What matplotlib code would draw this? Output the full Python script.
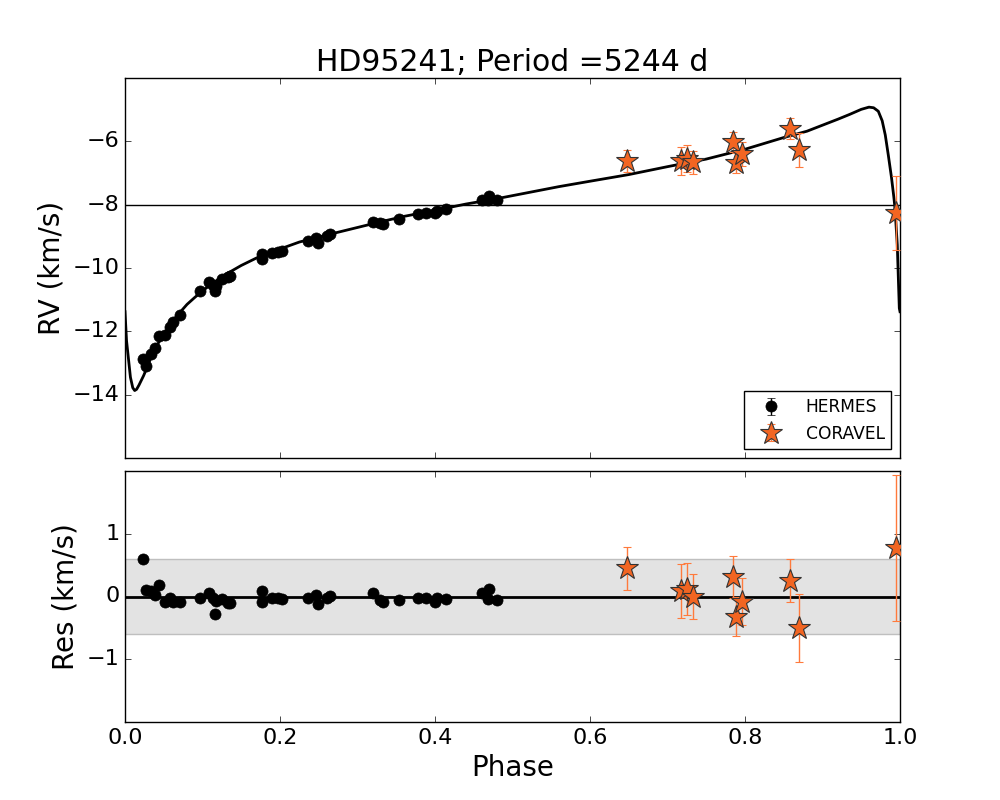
import matplotlib
matplotlib.use("Agg")
import matplotlib.pyplot as plt
import numpy as np

# ---------------------------- data ---------------------------- #

title = "HD95241; Period =5244 d"

# HERMES radial velocities (phase, RV) and residuals
hermes_phase = [0.0228, 0.027, 0.034, 0.0387, 0.044, 0.0516, 0.058, 0.062, 0.071,
                0.0968, 0.1088, 0.113, 0.116, 0.117, 0.1248, 0.133, 0.135,
                0.177, 0.177, 0.19, 0.198, 0.202, 0.2365, 0.247, 0.249, 0.26, 0.264,
                0.3204, 0.329, 0.333, 0.354, 0.378, 0.389, 0.400, 0.402, 0.414,
                0.4603, 0.47, 0.469, 0.4796]
hermes_rv = [-12.88, -13.08, -12.72, -12.52, -12.15, -12.12, -11.85, -11.72, -11.48,
             -10.72, -10.45, -10.55, -10.72, -10.58, -10.35, -10.28, -10.24,
             -9.55, -9.73, -9.52, -9.49, -9.45, -9.14, -9.06, -9.2, -8.98, -8.93,
             -8.55, -8.58, -8.62, -8.45, -8.29, -8.26, -8.26, -8.19, -8.14,
             -7.84, -7.74, -7.86, -7.86]
hermes_res = [0.59, 0.10, 0.08, 0.02, 0.18, -0.095, -0.03, -0.08, -0.085,
              -0.016, 0.06, -0.02, -0.28, -0.07, -0.04, -0.11, -0.10,
              0.09, -0.095, -0.03, -0.03, -0.04, -0.016, 0.02, -0.12, -0.03, 0.005,
              0.05, -0.06, -0.08, -0.05, -0.016, -0.016, -0.085, -0.016, -0.04,
              0.05, 0.12, -0.04, -0.05]
hermes_err = [0.02] * len(hermes_phase)

# CORAVEL radial velocities
coravel_phase = [0.648, 0.718, 0.7256, 0.733, 0.785, 0.7884, 0.7957, 0.858, 0.8697, 0.9948]
coravel_rv = [-6.62, -6.62, -6.55, -6.66, -6.02, -6.68, -6.39, -5.60, -6.28, -8.27]
coravel_err = [0.34, 0.43, 0.42, 0.36, 0.33, 0.31, 0.38, 0.34, 0.54, 1.16]
coravel_res = [0.45, 0.085, 0.12, 0.0, 0.31, -0.32, -0.08, 0.25, -0.50, 0.77]

# orbit model curve (phase, RV)
model_phase = [0.0, 0.002, 0.0047, 0.007, 0.01, 0.0125, 0.015, 0.018, 0.021, 0.024,
               0.028, 0.034, 0.04, 0.047, 0.055, 0.062, 0.071, 0.08, 0.09, 0.1,
               0.115, 0.13, 0.15, 0.175, 0.2, 0.225, 0.25, 0.275, 0.3, 0.33,
               0.36, 0.4, 0.44, 0.48, 0.52, 0.56, 0.6, 0.65, 0.7, 0.75,
               0.8, 0.85, 0.88, 0.9, 0.92, 0.935, 0.95, 0.96, 0.966, 0.972,
               0.977, 0.981, 0.985, 0.989, 0.992, 0.9935, 0.9965, 0.9991, 1.0]
model_rv = [-11.38, -12.3, -12.92, -13.45, -13.78, -13.87, -13.83, -13.7, -13.55, -13.4,
            -13.17, -12.8, -12.5, -12.2, -11.93, -11.66, -11.4, -11.15, -10.93, -10.72,
            -10.45, -10.2, -9.92, -9.62, -9.4, -9.18, -9.02, -8.87, -8.72, -8.54,
            -8.37, -8.18, -7.98, -7.81, -7.62, -7.43, -7.26, -7.05, -6.8, -6.56,
            -6.25, -5.88, -5.68, -5.49, -5.3, -5.15, -4.99, -4.92, -4.94, -5.05,
            -5.35, -5.8, -6.45, -7.14, -7.75, -8.1, -9.27, -11.27, -11.38]

gamma = -8.0
res_band = 0.6

# ---------------------------- plotting ---------------------------- #

plt.style.use("classic")
plt.rcParams["figure.facecolor"] = "white"
plt.rcParams["savefig.facecolor"] = "white"
plt.rcParams["font.family"] = "DejaVu Sans"
plt.rcParams["axes.unicode_minus"] = True

star_face = "#f26522"
err_col = "#ff7a3c"

fig = plt.figure(figsize=(10, 8), dpi=100)
ax1 = fig.add_axes([0.125, 0.4275, 0.775, 0.475])
ax2 = fig.add_axes([0.125, 0.0975, 0.775, 0.31375])

# top panel
ax1.plot(model_phase, model_rv, color="black", lw=2, zorder=2)
ax1.axhline(gamma, color="black", lw=1, zorder=1)
ax1.errorbar(hermes_phase, hermes_rv, yerr=hermes_err, fmt="o", color="black",
             mec="black", ms=8, capsize=3, label="HERMES", zorder=3)
ax1.errorbar(coravel_phase, coravel_rv, yerr=coravel_err, fmt="*", color=star_face,
             ecolor=err_col, mec="#333333", mew=0.8, ms=17, capsize=3,
             label="CORAVEL", zorder=4)
ax1.set_xlim(0, 1)
ax1.set_ylim(-16, -4)
ax1.set_yticks([-14, -12, -10, -8, -6])
ax1.set_xticks([0.0, 0.2, 0.4, 0.6, 0.8, 1.0])
ax1.set_xticklabels([])
ax1.set_ylabel("RV (km/s)", fontsize=20)
ax1.set_title(title, fontsize=21.5)
ax1.tick_params(labelsize=16)
leg = ax1.legend(loc="lower right", numpoints=1, fontsize=12.3, frameon=True,
                 handlelength=2.4, handletextpad=0.8, borderpad=0.4)
leg.get_frame().set_edgecolor("black")

# residual panel
ax2.axhspan(-res_band, res_band, facecolor="0.89", edgecolor="0.75", zorder=0)
ax2.axhline(0, color="black", lw=2, zorder=1)
ax2.errorbar(hermes_phase, hermes_res, yerr=hermes_err, fmt="o", color="black",
             mec="black", ms=8, capsize=3, zorder=3)
ax2.errorbar(coravel_phase, coravel_res, yerr=coravel_err, fmt="*", color=star_face,
             ecolor=err_col, mec="#333333", mew=0.8, ms=17, capsize=3, zorder=4)
ax2.set_xlim(0, 1)
ax2.set_ylim(-2, 2)
ax2.set_yticks([-1, 0, 1])
ax2.set_xticks([0.0, 0.2, 0.4, 0.6, 0.8, 1.0])
ax2.set_xlabel("Phase", fontsize=20)
ax2.set_ylabel("Res (km/s)", fontsize=20)
ax2.tick_params(labelsize=16)

fig.savefig("out.png", dpi=100)
